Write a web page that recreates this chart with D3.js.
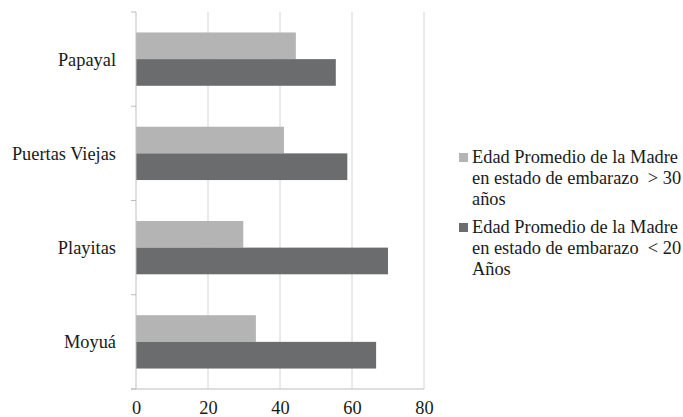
<!DOCTYPE html>
<html>
<head>
<meta charset="utf-8">
<script src="https://cdn.jsdelivr.net/npm/d3@7/dist/d3.min.js"></script>
<style>
  html, body { margin: 0; padding: 0; background: #fff; }
  svg { display: block; }
</style>
</head>
<body>
<svg id="chart" width="683" height="417"></svg>
<script>
const categories = ["Papayal", "Puertas Viejas", "Playitas", "Moyuá"];
const seriesNames = [
  ["Edad Promedio de la Madre", "en estado de embarazo  > 30", "años"],
  ["Edad Promedio de la Madre", "en estado de embarazo  < 20", "Años"]
];
const seriesOver30 = [44.4, 41.1, 29.8, 33.3];
const seriesUnder20 = [55.5, 58.7, 70.0, 66.7];
const xTicks = [0, 20, 40, 60, 80];
const colors = ["#b3b4b3", "#6b6c6d"];

const FONT = "'Liberation Serif', 'Times New Roman', Times, 'DejaVu Serif', serif";
const series = [seriesOver30, seriesUnder20];
const svg = d3.select("#chart");

// calibrate font size so that the legend line matches the reference width (~206px)
const probe = svg.append("text").style("font-family", FONT).style("font-size", "18px")
  .text("Edad Promedio de la Madre");
const w = probe.node().getComputedTextLength();
probe.remove();
const fs = Math.max(12, Math.min(20, 18 * 206 / (w || 206)));
const FS = fs.toFixed(2) + "px";

const x = d3.scaleLinear().domain([0, 80]).range([136, 424]);
const y0 = d3.scaleBand().domain(categories).range([12, 389]).padding(0);
const y1 = d3.scaleBand().domain([0, 1]).range([0, y0.bandwidth()]).paddingInner(0).paddingOuter(0.767);

// gridlines
svg.append("g").selectAll("line").data(xTicks.filter(d => d > 0)).join("line")
  .attr("x1", d => x(d)).attr("x2", d => x(d))
  .attr("y1", 12).attr("y2", 389)
  .attr("stroke", "#d4d4d4").attr("stroke-width", 1);

// bars
const rows = categories.map((c, i) => ({ c, vals: series.map(s => s[i]) }));
const g = svg.append("g").selectAll("g").data(rows).join("g")
  .attr("transform", d => `translate(0,${y0(d.c)})`);
g.selectAll("rect").data(d => d.vals.map((v, k) => ({ v, k }))).join("rect")
  .attr("x", x(0))
  .attr("y", d => y1(d.k))
  .attr("width", d => x(d.v) - x(0))
  .attr("height", y1.bandwidth())
  .attr("fill", d => colors[d.k]);

// y axis line and category boundary ticks
svg.append("line").attr("x1", 136).attr("x2", 136).attr("y1", 12).attr("y2", 389)
  .attr("stroke", "#bdbdbd");
const bounds = categories.map(c => y0(c)).concat([y0.range()[1]]);
svg.append("g").selectAll("line").data(bounds).join("line")
  .attr("x1", 131).attr("x2", 136).attr("y1", d => d).attr("y2", d => d)
  .attr("stroke", "#bdbdbd");
// x axis line
svg.append("line").attr("x1", 131).attr("x2", 424).attr("y1", 389).attr("y2", 389)
  .attr("stroke", "#bdbdbd");

// x axis labels
const xAxis = svg.append("g").attr("transform", "translate(0,389)")
  .call(d3.axisBottom(x).tickValues(xTicks).tickSize(0).tickPadding(0));
xAxis.select(".domain").remove();
xAxis.attr("font-family", null).attr("font-size", null);
xAxis.selectAll("text")
  .attr("y", 25).attr("dy", 0)
  .style("font-size", FS)
  .style("font-family", FONT)
  .attr("fill", "#1a1a1a");

// y axis labels
const yAxis = svg.append("g").attr("transform", "translate(116,0)")
  .call(d3.axisLeft(y0).tickSize(0).tickPadding(0));
yAxis.select(".domain").remove();
yAxis.attr("font-family", null).attr("font-size", null);
yAxis.selectAll("text")
  .attr("dy", 0).attr("y", 6.5)
  .style("font-size", FS)
  .style("font-family", FONT)
  .attr("fill", "#1a1a1a");

// legend
const legendTop = [163, 233];
seriesNames.forEach((lines, k) => {
  const lg = svg.append("g");
  lg.append("rect").attr("x", 459).attr("y", legendTop[k] - 10).attr("width", 9).attr("height", 9)
    .attr("fill", colors[k]);
  lines.forEach((t, j) => {
    lg.append("text").attr("x", 472).attr("y", legendTop[k] + j * 21)
      .style("font-size", FS).style("font-family", FONT)
      .style("white-space", "pre").attr("fill", "#1a1a1a").text(t);
  });
});
</script>
</body>
</html>
